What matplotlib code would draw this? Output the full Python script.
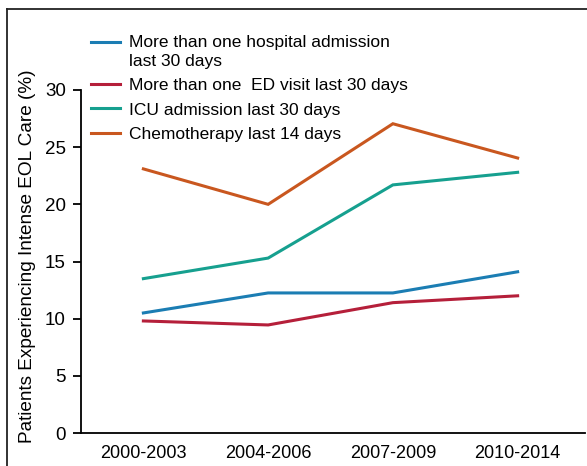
import numpy as np
import matplotlib.pyplot as plt
from matplotlib.lines import Line2D

plt.rcParams['font.family'] = ['Liberation Sans', 'DejaVu Sans']

# Data
# ----
periods = ["2000-2003", "2004-2006", "2007-2009", "2010-2014"]

hospital = [10.5, 12.25, 12.25, 14.1]
ed_visit = [9.8, 9.45, 11.4, 12.0]
icu = [13.5, 15.3, 21.7, 22.8]
chemo = [23.1, 20.0, 27.05, 24.05]

labels = [
    "More than one hospital admission\nlast 30 days",
    "More than one  ED visit last 30 days",
    "ICU admission last 30 days",
    "Chemotherapy last 14 days",
]
colors = ["#1b7db3", "#b51f3a", "#16a08f", "#c9571f"]

if __name__ == "__main__":
    fig = plt.figure(figsize=(5.87, 4.66), dpi=100)
    ax = fig.add_axes([81 / 587, 1 - 433 / 466, (585 - 81) / 587, (433 - 90) / 466])

    x = np.arange(len(periods))
    for ys, lab, c in zip([hospital, ed_visit, icu, chemo], labels, colors):
        ax.plot(x, ys, color=c, linewidth=2.2, label=lab, solid_joinstyle="miter")

    ax.set_xlim(-0.5, 3.54)
    ax.set_ylim(0, 30)
    ax.set_yticks([0, 5, 10, 15, 20, 25, 30])
    ax.set_xticks(x)
    ax.set_xticklabels(periods)
    ax.tick_params(axis="x", length=0, pad=9, labelsize=13)
    ax.tick_params(axis="y", length=5.5, width=1.3, pad=5.5, labelsize=13.5)

    for side in ["top", "right"]:
        ax.spines[side].set_visible(False)
    for side in ["left", "bottom"]:
        ax.spines[side].set_linewidth(1.3)

    ax.set_ylabel("Patients Experiencing Intense EOL Care (%)", fontsize=13.7)
    ax.yaxis.set_label_coords(-0.089, 0.515)

    # Legend
    # ------
    leg = fig.legend(
        loc="upper left",
        bbox_to_anchor=(84 / 587, 1 - 28 / 466),
        frameon=False,
        fontsize=12.5,
        handlelength=1.7,
        handletextpad=0.5,
        labelspacing=0.52,
        borderaxespad=0,
    )
    for t in leg.get_texts():
        t.set_linespacing(1.35)
    first = leg.get_lines()[0]
    first.set_ydata(np.asarray(first.get_ydata()) + 7.5)

    # Outer frame
    # -----------
    fig.add_artist(Line2D([7 / 587, 1.0], [1 - 9 / 466] * 2, color="#222222",
                          linewidth=1.3, transform=fig.transFigure))
    fig.add_artist(Line2D([7 / 587] * 2, [0.0, 1 - 9 / 466], color="#222222",
                          linewidth=1.3, transform=fig.transFigure))

    fig.savefig("out.png", dpi=100)
